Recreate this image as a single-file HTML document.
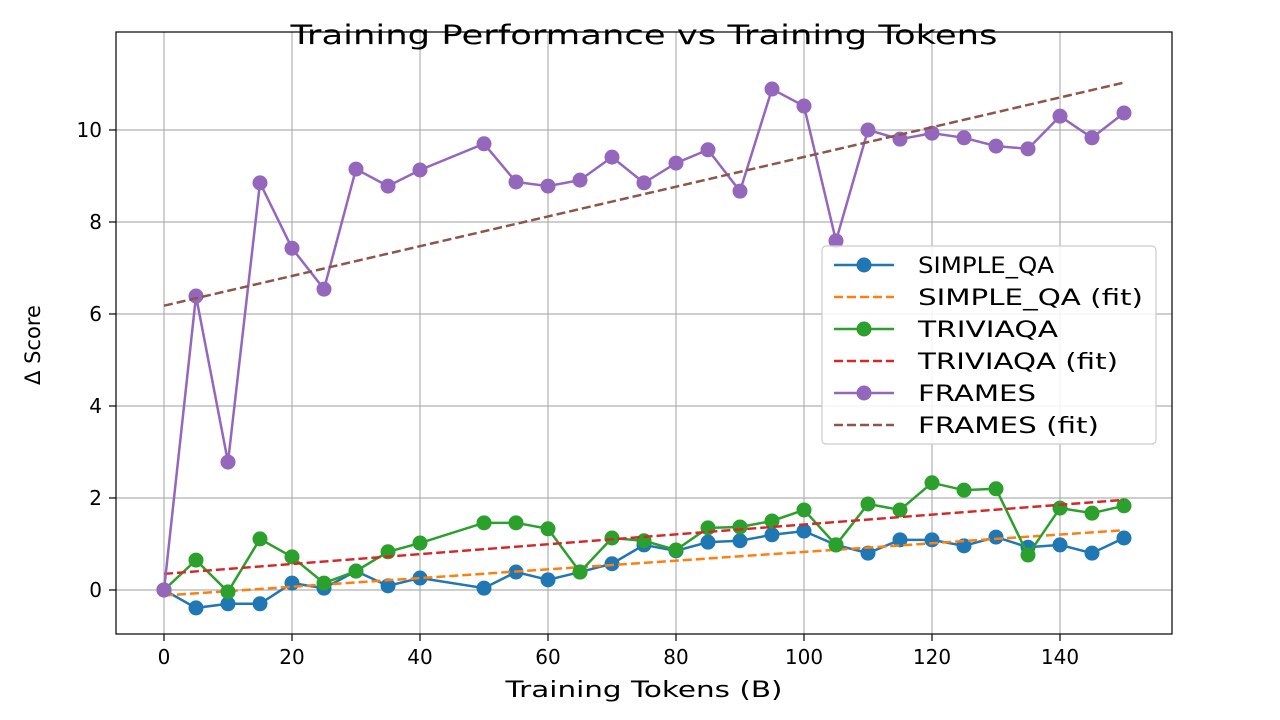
<!DOCTYPE html>
<html><head><meta charset="utf-8"><style>
html,body{margin:0;padding:0;background:#fff;}
svg{display:block;font-family:"DejaVu Sans","Liberation Sans",sans-serif;}
</style></head><body>
<svg id="chart" width="1280" height="720"></svg>
<script>
const xValues=[0,5,10,15,20,25,30,35,40,50,55,60,65,70,75,80,85,90,95,100,105,110,115,120,125,130,135,140,145,150];
const simpleQA=[0,-0.39,-0.30,-0.30,0.15,0.04,0.41,0.09,0.26,0.04,0.39,0.22,0.39,0.57,0.98,0.85,1.04,1.07,1.2,1.28,0.98,0.80,1.09,1.09,0.96,1.15,0.93,0.98,0.80,1.13];
const triviaQA=[0,0.65,-0.04,1.11,0.72,0.15,0.41,0.83,1.02,1.46,1.46,1.33,0.39,1.13,1.07,0.87,1.35,1.37,1.50,1.74,0.98,1.87,1.74,2.33,2.17,2.20,0.76,1.78,1.67,1.83];
const frames=[0,6.39,2.78,8.85,7.43,6.54,9.15,8.78,9.13,9.70,8.87,8.78,8.91,9.41,8.85,9.28,9.57,8.67,10.89,10.52,7.59,10.0,9.80,9.93,9.83,9.65,9.59,10.30,9.83,10.37];
const simpleFit=[-0.12,1.30];
const triviaFit=[0.35,1.96];
const framesFit=[6.18,11.03];
const xTicks=[0,20,40,60,80,100,120,140];
const yTicks=[0,2,4,6,8,10];

const NS="http://www.w3.org/2000/svg";
const svg=document.getElementById('chart');
const L=116,R=1172,T=32,B=634;
const xmin=-7.5,xmax=157.5,ymin=-0.957,ymax=12.13;
const sx=v=>L+(v-xmin)/(xmax-xmin)*(R-L);
const sy=v=>B-(v-ymin)/(ymax-ymin)*(B-T);
function el(tag,attrs,parent){const e=document.createElementNS(NS,tag);for(const k in attrs)e.setAttribute(k,attrs[k]);(parent||svg).appendChild(e);return e;}

xTicks.forEach(t=>{
  const g=el('line',{x1:sx(t),x2:sx(t),y1:T,y2:B,stroke:'#b0b0b0','stroke-width':1.2});
  
  
  el('line',{x1:sx(t),x2:sx(t),y1:B,y2:B+7,stroke:'#000','stroke-width':1.2});
  const tx=el('text',{x:sx(t),y:B+30,'text-anchor':'middle','font-size':20,fill:'#000'});
  tx.textContent=t;
  
  
});
yTicks.forEach(t=>{
  const g=el('line',{x1:L,x2:R,y1:sy(t),y2:sy(t),stroke:'#b0b0b0','stroke-width':1.2});
  
  
  el('line',{x1:L-7,x2:L,y1:sy(t),y2:sy(t),stroke:'#000','stroke-width':1.2});
  const tx=el('text',{x:L-14,y:sy(t)+7,'text-anchor':'end','font-size':20,fill:'#000'});
  tx.textContent=t;
  
  
});

function series(vals,color,name){
  const p=el('polyline',{points:vals.map((v,i)=>sx(xValues[i])+','+sy(v)).join(' '),fill:'none',stroke:color,'stroke-width':2.5});
  
  
  vals.forEach((v,i)=>{
    const c=el('circle',{cx:sx(xValues[i]),cy:sy(v),r:7.5,fill:color});
    
    
  });
}
function fit(f,color,name){
  const l=el('line',{x1:sx(xValues[0]),y1:sy(f[0]),x2:sx(xValues[xValues.length-1]),y2:sy(f[1]),stroke:color,'stroke-width':2.5,'stroke-dasharray':'9,4'});
  
  
}
series(simpleQA,'#1f77b4','simple-qa');
fit(simpleFit,'#ff7f0e','simple-qa-fit');
series(triviaQA,'#2ca02c','triviaqa');
fit(triviaFit,'#d62728','triviaqa-fit');
series(frames,'#9467bd','frames');
fit(framesFit,'#8c564b','frames-fit');

el('rect',{x:L,y:T,width:R-L,height:B-T,fill:'none',stroke:'#000','stroke-width':1.2});

const lg=el('g',{});


el('rect',{x:822,y:246,width:334,height:198,rx:4,fill:'#fff','fill-opacity':0.85,stroke:'#ccc','stroke-width':1.2},lg);
const entries=[['SIMPLE_QA','#1f77b4',false,136],['SIMPLE_QA (fit)','#ff7f0e',true,225],['TRIVIAQA','#2ca02c',false,140],['TRIVIAQA (fit)','#d62728',true,200],['FRAMES','#9467bd',false,118],['FRAMES (fit)','#8c564b',true,181]];
entries.forEach((e,i)=>{
  const y=265+i*32;
  const g=el('g',{},lg);
  
  
  el('line',{x1:834,x2:894,y1:y,y2:y,stroke:e[1],'stroke-width':2.5,'stroke-dasharray':e[2]?'9,4':'none'},g);
  if(!e[2])el('circle',{cx:864,cy:y,r:7.5,fill:e[1]},g);
  const t=el('text',{x:918,y:y+8,'font-size':22,fill:'#000',textLength:e[3],lengthAdjust:'spacingAndGlyphs'},g);
  t.textContent=e[0];
});

const title=el('text',{x:644,y:44,'text-anchor':'middle','font-size':27,fill:'#000',textLength:707,lengthAdjust:'spacingAndGlyphs'});
title.textContent='Training Performance vs Training Tokens';


const xl=el('text',{x:644,y:697,'text-anchor':'middle','font-size':22,fill:'#000',textLength:277,lengthAdjust:'spacingAndGlyphs'});
xl.textContent='Training Tokens (B)';


const yl=el('text',{x:40,y:345,'text-anchor':'middle','font-size':21,fill:'#000',transform:'rotate(-90 40 345)'});
yl.textContent='Δ Score';


</script>
</body></html>
